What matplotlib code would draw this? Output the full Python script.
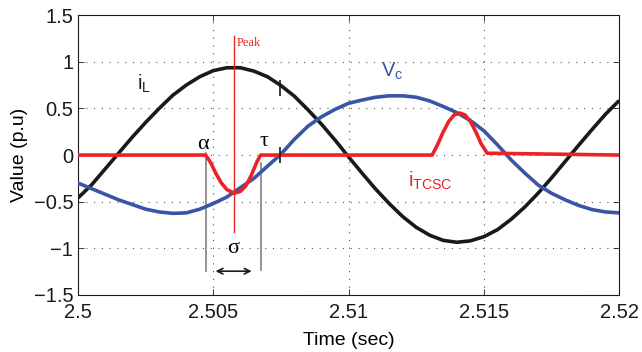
import numpy as np
import matplotlib
matplotlib.use("Agg")
import matplotlib.pyplot as plt

plt.rcParams['font.family'] = ['Liberation Sans', 'DejaVu Sans']

# sampling grid, ms after t = 2.5 s
t_ms = np.arange(0, 20.5, 0.5)

# line current i_L (black)
i_L = [-0.46, -0.32, -0.15, 0.02, 0.19, 0.35, 0.50, 0.64, 0.75, 0.84,
       0.905, 0.936, 0.936, 0.90, 0.84, 0.745, 0.63, 0.485, 0.33, 0.16,
       -0.02, -0.195, -0.365, -0.52, -0.66, -0.775, -0.86, -0.915, -0.935, -0.92,
       -0.875, -0.80, -0.69, -0.56, -0.41, -0.245, -0.07, 0.105, 0.275, 0.44,
       0.585]

# capacitor voltage V_c (blue)
v_c = [-0.30, -0.36, -0.42, -0.48, -0.53, -0.58, -0.61, -0.625, -0.62, -0.58,
       -0.52, -0.45, -0.35, -0.25, -0.12, 0.01, 0.17, 0.31, 0.41, 0.49,
       0.555, 0.59, 0.62, 0.635, 0.635, 0.62, 0.58, 0.52, 0.455, 0.37,
       0.26, 0.11, -0.05, -0.19, -0.32, -0.41, -0.48, -0.54, -0.585, -0.61,
       -0.62]

# thyristor current i_TCSC (red)
tcsc_ms = [0.0, 4.72, 4.9, 5.1, 5.3, 5.5, 5.77, 6.0, 6.2, 6.4, 6.6, 6.75,
           13.09, 13.3, 13.5, 13.7, 13.9, 14.12, 14.3, 14.5, 14.7, 14.9, 15.12, 20.0]
i_tcsc = [0.0, 0.0, -0.08, -0.20, -0.30, -0.37, -0.41, -0.39, -0.33, -0.22, -0.08, 0.0,
          0.0, 0.12, 0.25, 0.36, 0.43, 0.45, 0.43, 0.36, 0.25, 0.12, 0.02, 0.0]

# annotation positions (ms)
peak_ms = 5.77
alpha_ms = 4.73
tau_ms = 6.77
marker_ms = [7.47, 7.47]
marker_val = [0.72, 0.0]

xticks = [2.5, 2.505, 2.51, 2.515, 2.52]
xlabels = ['2.5', '2.505', '2.51', '2.515', '2.52']
yticks = [-1.5, -1, -0.5, 0, 0.5, 1, 1.5]
ylabels = ['\u22121.5', '\u22121', '\u22120.5', '0', '0.5', '1', '1.5']

black = '#1a1a1a'
blue = '#3a55a8'
red = '#ec2227'

t = 2.5 + t_ms / 1000.0
tt = 2.5 + np.array(tcsc_ms) / 1000.0

fig = plt.figure(figsize=(6.42, 3.52), dpi=100)
ax = fig.add_axes([0.1215, 0.162, 0.843, 0.795])

ax.plot(t, i_L, color=black, lw=2.6, solid_capstyle='butt', zorder=3)
ax.plot(t, v_c, color=blue, lw=2.6, zorder=3)
ax.plot(tt, i_tcsc, color=red, lw=2.6, zorder=4)

# peak line and limits of conduction
tp = 2.5 + peak_ms / 1000.0
ax.plot([tp, tp], [-0.82, 1.28], color=red, lw=1.0, zorder=5)
ax.text(tp + 0.00008, 1.17, 'Peak', color=red, fontsize=9,
        family=['Liberation Serif', 'DejaVu Serif'])
ta = 2.5 + alpha_ms / 1000.0
tb = 2.5 + tau_ms / 1000.0
ax.plot([ta, ta], [0.02, -1.245], color='#808080', lw=1.2, zorder=2)
ax.plot([tb, tb], [-0.085, -1.235], color='#808080', lw=1.2, zorder=2)
ax.annotate('', xy=(ta + 0.00025, -1.245), xytext=(tb - 0.00025, -1.245),
            arrowprops=dict(arrowstyle='<->', color=black, lw=1.2))
ax.plot(2.5 + np.array(marker_ms) / 1000.0, marker_val, ls='none', marker='|',
        ms=11, mew=1.2, color=black, zorder=6)

serif = ['Liberation Serif', 'DejaVu Serif']
ax.text(ta - 0.0001, 0.01, '\u03b1', fontsize=16, family=serif, ha='center', va='bottom')
ax.text(tb + 0.0001, 0.04, '\u03c4', fontsize=16, family=serif, ha='center', va='bottom')
ax.text((ta + tb) / 2, -1.0, '\u03c3', fontsize=16, family=serif, ha='center', va='center')

ax.text(2.50217, 0.70, r'$\mathregular{i_L}$', fontsize=14.5, color=black)
ax.text(2.5112, 0.84, r'$\mathregular{V_c}$', fontsize=14.5, color=blue)
ax.text(2.5122, -0.34, r'$\mathregular{i_{TCSC}}$', fontsize=14.5, color=red)

ax.set_xlim(2.5, 2.52)
ax.set_ylim(-1.5, 1.5)
ax.set_xticks(xticks)
ax.set_xticklabels(xlabels)
ax.set_yticks(yticks)
ax.set_yticklabels(ylabels)
ax.tick_params(direction='in', top=True, right=True, length=4, width=0.6,
               labelsize=14.5, colors=black)
ax.tick_params(axis='x', pad=6)
ax.grid(True, color='#555555', ls=(0, (1, 6)), lw=0.8)
for s in ax.spines.values():
    s.set_linewidth(0.8)
    s.set_color(black)

ax.set_xlabel('Time (sec)', fontsize=14, labelpad=7)
ax.set_ylabel('Value (p.u)', fontsize=14, labelpad=4)

fig.savefig('out.png', dpi=100)
